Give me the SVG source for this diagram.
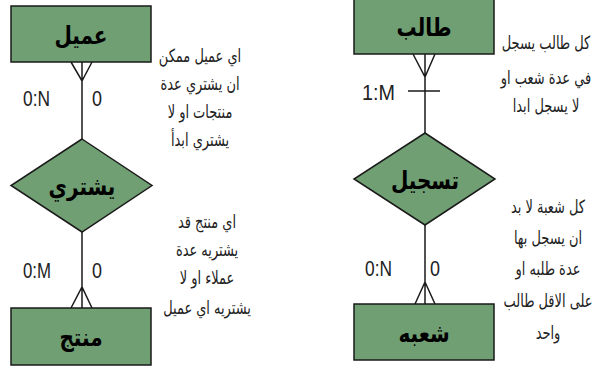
<svg xmlns="http://www.w3.org/2000/svg" width="599" height="367" viewBox="0 0 599 367">
<style>
.ent{fill:#6f9f72;stroke:#1a1a1a;stroke-width:1.5}
.title{font-family:"DejaVu Sans",sans-serif;font-weight:bold;font-size:25px;fill:#000;text-anchor:middle}
.note{font-family:"DejaVu Sans",sans-serif;font-size:18px;fill:#222;text-anchor:middle}
.lbl{font-family:"Liberation Sans",Arial,sans-serif;font-size:22px;fill:#222}
.ln{stroke:#1a1a1a;stroke-width:1.5;fill:none}
</style>
<rect width="599" height="367" fill="#fff"/>
<g id="connectors">
<path class="ln" d="M82 62V139M71 62L82 81L92 62"/>
<path class="ln" d="M82 232V308M71 308L82 287L92 308"/>
<path class="ln" d="M425 54V133M413 54L425 77L435 54M408 91H440"/>
<path class="ln" d="M425 225V304M415 304L425 282L435 304"/>
</g>
<g id="amil">
<rect class="ent" x="11" y="6" width="140" height="56"/>
<text class="title" transform="translate(81 0) scale(0.8 1)" x="0" y="44">عميل</text>
</g>
<g id="yashtari">
<polygon class="ent" points="82,139 152,185.5 82,232 11,185.5"/>
<text class="title" transform="translate(82 0) scale(0.8 1)" x="0" y="195">يشتري</text>
</g>
<g id="muntaj">
<rect class="ent" x="11" y="308" width="140" height="57"/>
<text class="title" transform="translate(81 0) scale(0.8 1)" x="0" y="346">منتج</text>
</g>
<g id="talib">
<rect class="ent" x="354" y="-1" width="140" height="55"/>
<text class="title" transform="translate(424 0) scale(0.8 1)" x="0" y="36">طالب</text>
</g>
<g id="tasjeel">
<polygon class="ent" points="425,133 495,179 425,225 354,179"/>
<text class="title" transform="translate(425 0) scale(0.8 1)" x="0" y="189">تسجيل</text>
</g>
<g id="shoba">
<rect class="ent" x="354" y="304" width="140" height="56"/>
<text class="title" transform="translate(424 0) scale(0.8 1)" x="0" y="342">شعبه</text>
</g>
<g id="labels">
<text class="lbl" x="23" y="106" textLength="27" lengthAdjust="spacingAndGlyphs">0:N</text>
<text class="lbl" x="92" y="106" textLength="10" lengthAdjust="spacingAndGlyphs">0</text>
<text class="lbl" x="23" y="278" textLength="28" lengthAdjust="spacingAndGlyphs">0:M</text>
<text class="lbl" x="92" y="278" textLength="10" lengthAdjust="spacingAndGlyphs">0</text>
<text class="lbl" x="362" y="100" textLength="33" lengthAdjust="spacingAndGlyphs">1:M</text>
<text class="lbl" x="365" y="276" textLength="27" lengthAdjust="spacingAndGlyphs">0:N</text>
<text class="lbl" x="430" y="276" textLength="10" lengthAdjust="spacingAndGlyphs">0</text>
</g>
<g id="note1" transform="translate(200 0) scale(0.72 1)">
<text class="note" x="0" y="62">اي عميل ممكن</text>
<text class="note" x="0" y="90">ان يشتري عدة</text>
<text class="note" x="0" y="118">منتجات او لا</text>
<text class="note" x="0" y="146">يشتري ابدأ</text>
</g>
<g id="note2" transform="translate(207 0) scale(0.72 1)">
<text class="note" x="0" y="228">اي منتج قد</text>
<text class="note" x="0" y="256">يشتريه عدة</text>
<text class="note" x="0" y="284">عملاء او لا</text>
<text class="note" x="0" y="314">يشتريه اي عميل</text>
</g>
<g id="note3" transform="translate(546 0) scale(0.72 1)">
<text class="note" x="0" y="49">كل طالب يسجل</text>
<text class="note" x="0" y="84">في عدة شعب او</text>
<text class="note" x="0" y="112">لا يسجل ابدا</text>
</g>
<g id="note4" transform="translate(548 0) scale(0.72 1)">
<text class="note" x="0" y="213">كل شعبة لا بد</text>
<text class="note" x="0" y="244">ان يسجل بها</text>
<text class="note" x="0" y="275">عدة طلبه او</text>
<text class="note" x="0" y="307">على الاقل طالب</text>
<text class="note" x="0" y="339">واحد</text>
</g>
</svg>
